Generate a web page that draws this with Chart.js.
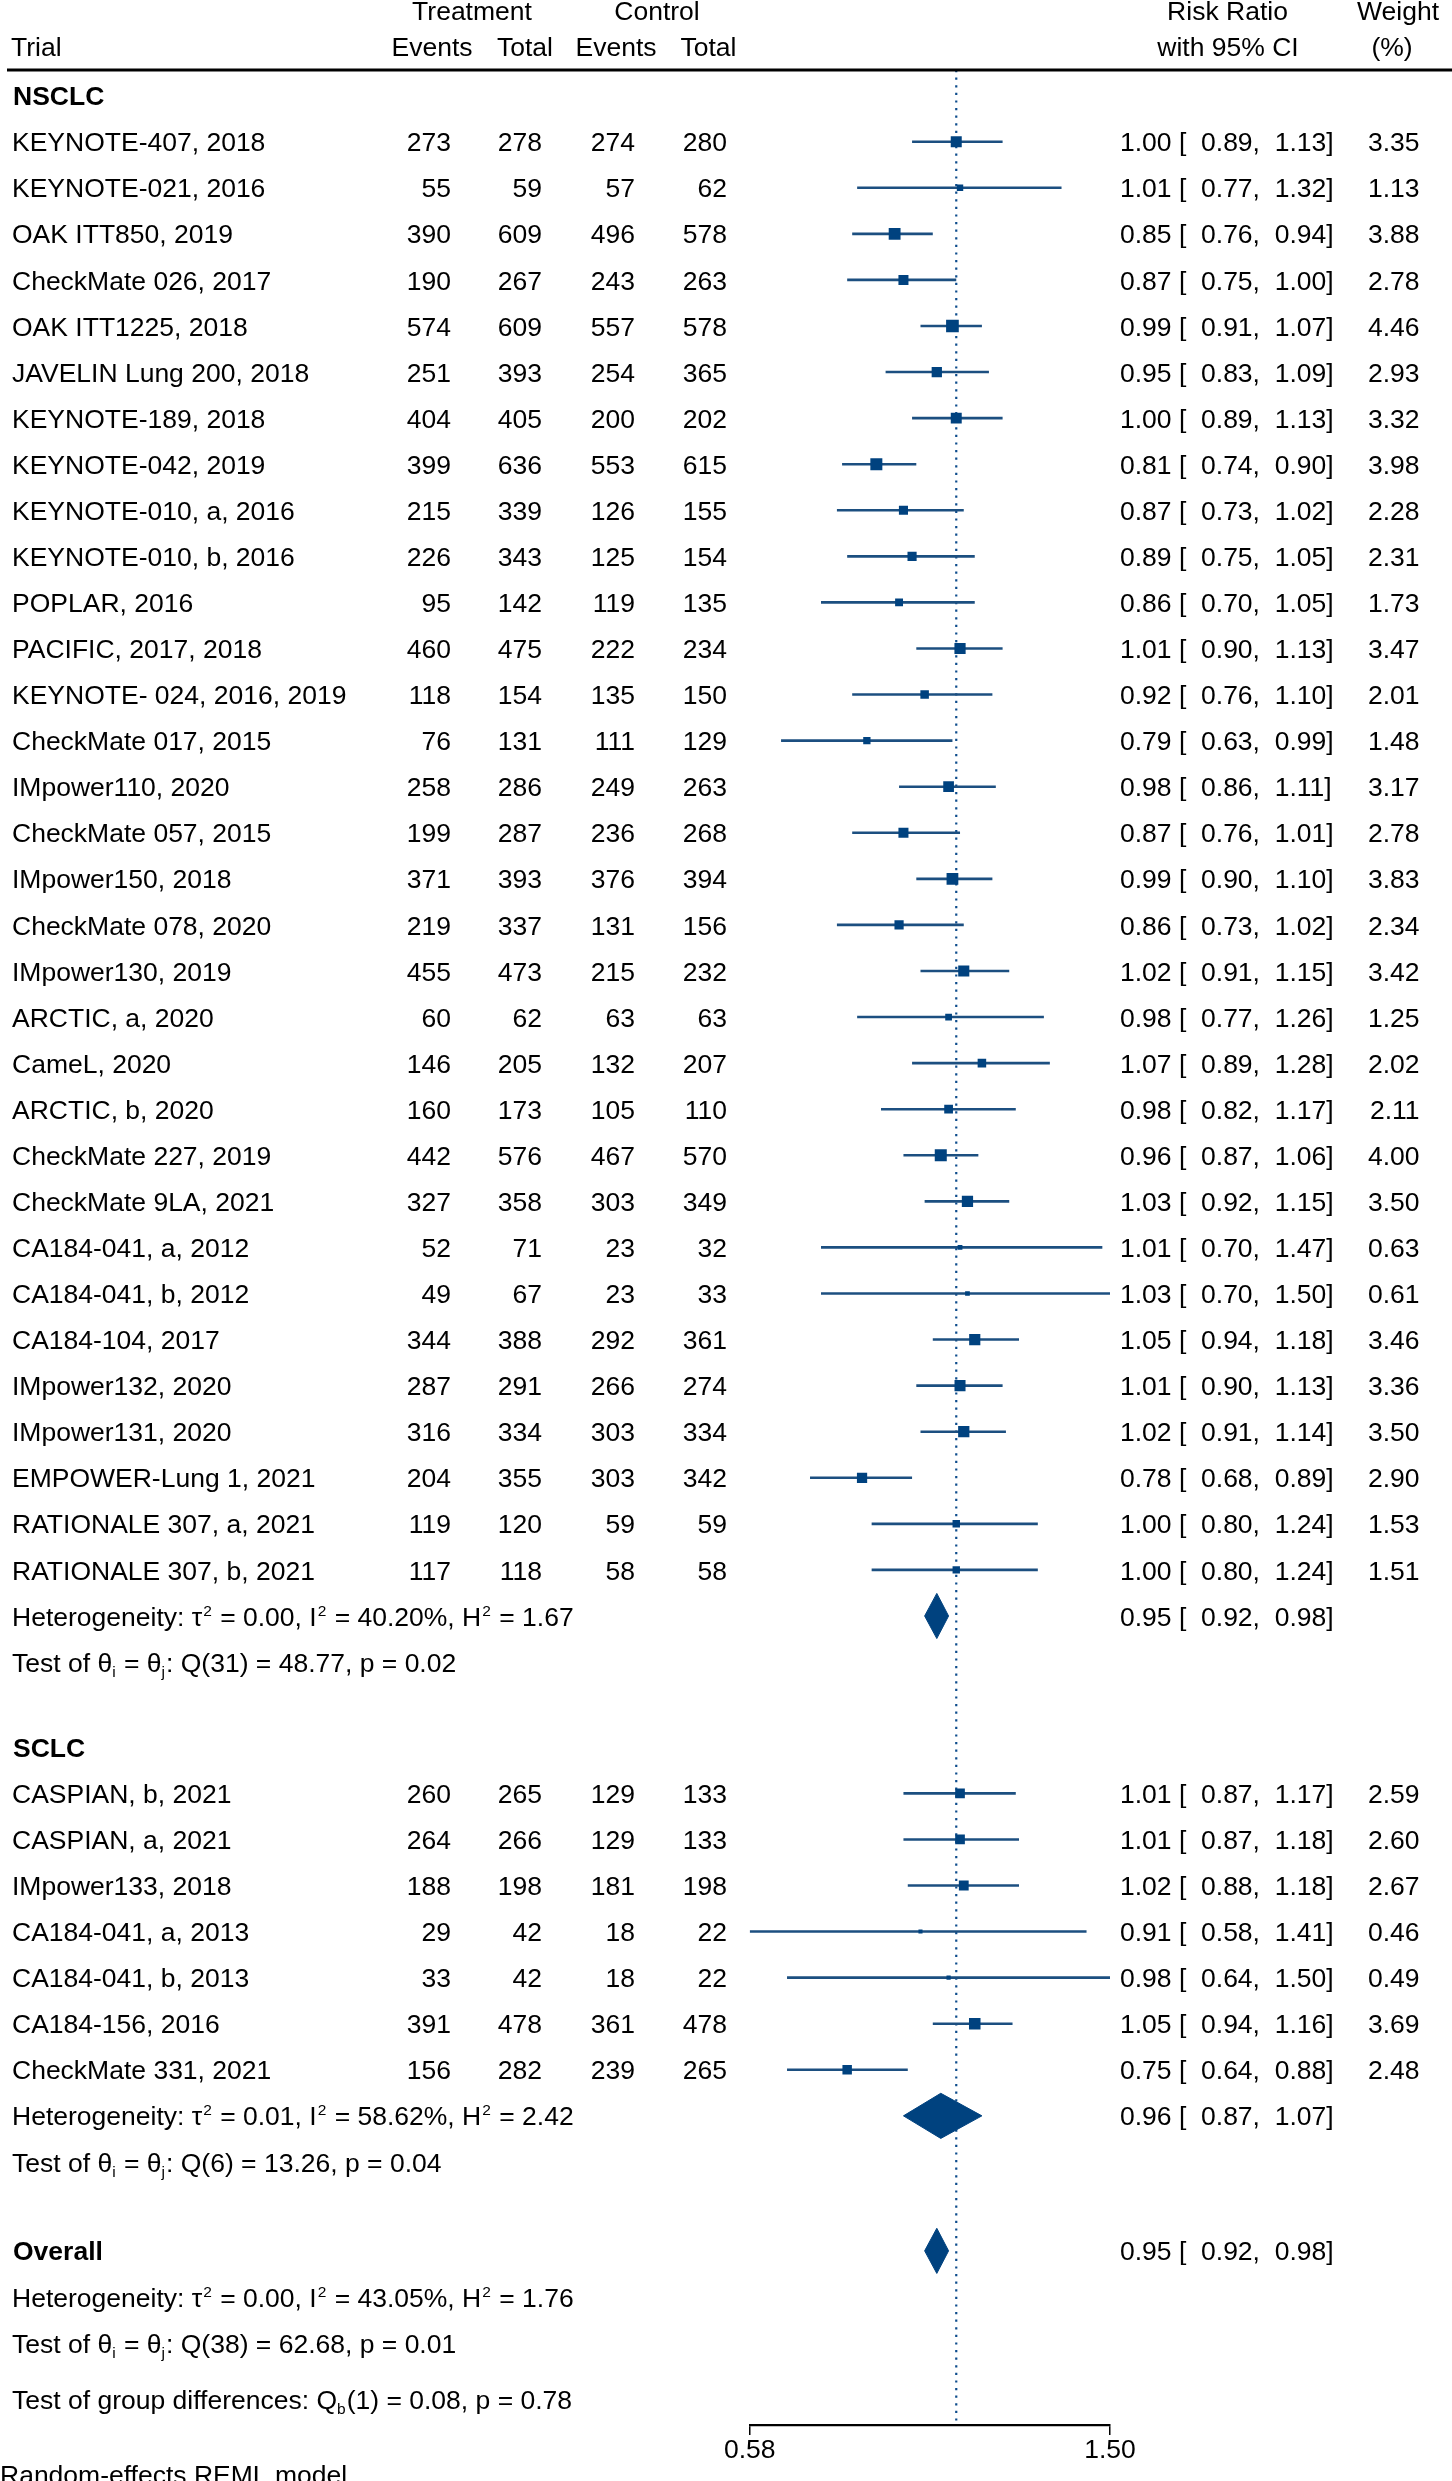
<!DOCTYPE html>
<html><head><meta charset="utf-8">
<script src="https://cdn.jsdelivr.net/npm/chart.js@4/dist/chart.umd.min.js"></script>
<style>html,body{margin:0;padding:0;background:#fff}#wrap{width:1452px;height:2481px;position:relative}</style>
</head><body><div id="wrap"><canvas id="c" width="1452" height="2481"></canvas></div>
<script>
// ---------- DATA ----------
const nsclcNames = ["KEYNOTE-407, 2018","KEYNOTE-021, 2016","OAK ITT850, 2019","CheckMate 026, 2017","OAK ITT1225, 2018","JAVELIN Lung 200, 2018","KEYNOTE-189, 2018","KEYNOTE-042, 2019","KEYNOTE-010, a, 2016","KEYNOTE-010, b, 2016","POPLAR, 2016","PACIFIC, 2017, 2018","KEYNOTE- 024, 2016, 2019","CheckMate 017, 2015","IMpower110, 2020","CheckMate 057, 2015","IMpower150, 2018","CheckMate 078, 2020","IMpower130, 2019","ARCTIC, a, 2020","CameL, 2020","ARCTIC, b, 2020","CheckMate 227, 2019","CheckMate 9LA, 2021","CA184-041, a, 2012","CA184-041, b, 2012","CA184-104, 2017","IMpower132, 2020","IMpower131, 2020","EMPOWER-Lung 1, 2021","RATIONALE 307, a, 2021","RATIONALE 307, b, 2021"];
const nsclcTreatEvents = [273,55,390,190,574,251,404,399,215,226,95,460,118,76,258,199,371,219,455,60,146,160,442,327,52,49,344,287,316,204,119,117];
const nsclcTreatTotal  = [278,59,609,267,609,393,405,636,339,343,142,475,154,131,286,287,393,337,473,62,205,173,576,358,71,67,388,291,334,355,120,118];
const nsclcCtrlEvents  = [274,57,496,243,557,254,200,553,126,125,119,222,135,111,249,236,376,131,215,63,132,105,467,303,23,23,292,266,303,303,59,58];
const nsclcCtrlTotal   = [280,62,578,263,578,365,202,615,155,154,135,234,150,129,263,268,394,156,232,63,207,110,570,349,32,33,361,274,334,342,59,58];
const nsclcRR   = [1.00,1.01,0.85,0.87,0.99,0.95,1.00,0.81,0.87,0.89,0.86,1.01,0.92,0.79,0.98,0.87,0.99,0.86,1.02,0.98,1.07,0.98,0.96,1.03,1.01,1.03,1.05,1.01,1.02,0.78,1.00,1.00];
const nsclcLo   = [0.89,0.77,0.76,0.75,0.91,0.83,0.89,0.74,0.73,0.75,0.70,0.90,0.76,0.63,0.86,0.76,0.90,0.73,0.91,0.77,0.89,0.82,0.87,0.92,0.70,0.70,0.94,0.90,0.91,0.68,0.80,0.80];
const nsclcHi   = [1.13,1.32,0.94,1.00,1.07,1.09,1.13,0.90,1.02,1.05,1.05,1.13,1.10,0.99,1.11,1.01,1.10,1.02,1.15,1.26,1.28,1.17,1.06,1.15,1.47,1.50,1.18,1.13,1.14,0.89,1.24,1.24];
const nsclcWeight = [3.35,1.13,3.88,2.78,4.46,2.93,3.32,3.98,2.28,2.31,1.73,3.47,2.01,1.48,3.17,2.78,3.83,2.34,3.42,1.25,2.02,2.11,4.00,3.50,0.63,0.61,3.46,3.36,3.50,2.90,1.53,1.51];
const nsclcPooled = [0.95,0.92,0.98];
const nsclcHet  = ["0.00","40.20","1.67"];
const nsclcTest = ["31","48.77","0.02"];

const sclcNames = ["CASPIAN, b, 2021","CASPIAN, a, 2021","IMpower133, 2018","CA184-041, a, 2013","CA184-041, b, 2013","CA184-156, 2016","CheckMate 331, 2021"];
const sclcTreatEvents = [260,264,188,29,33,391,156];
const sclcTreatTotal  = [265,266,198,42,42,478,282];
const sclcCtrlEvents  = [129,129,181,18,18,361,239];
const sclcCtrlTotal   = [133,133,198,22,22,478,265];
const sclcRR  = [1.01,1.01,1.02,0.91,0.98,1.05,0.75];
const sclcLo  = [0.87,0.87,0.88,0.58,0.64,0.94,0.64];
const sclcHi  = [1.17,1.18,1.18,1.41,1.50,1.16,0.88];
const sclcWeight = [2.59,2.60,2.67,0.46,0.49,3.69,2.48];
const sclcPooled = [0.96,0.87,1.07];
const sclcHet  = ["0.01","58.62","2.42"];
const sclcTest = ["6","13.26","0.04"];

const overallPooled = [0.95,0.92,0.98];
const overallHet  = ["0.00","43.05","1.76"];
const overallTest = ["38","62.68","0.01"];
const groupDiff = ["1","0.08","0.78"];

const axisTicks = [0.58, 1.50];
const sectionLabels = ["NSCLC","SCLC","Overall"];
const modelNote = "Random-effects REML model";

// ---------- LAYOUT (row units) ----------
const FF = '"Liberation Sans", Arial, Helvetica, sans-serif';
const FS = 26.5, SUBFS = 15.5;
const NAVY = '#00427f', CILINE = '#1c4f80', REFCOL = '#0d4c8c';
const Y_MIN = -0.556, Y_MAX = 50.56;

const groups = [
  {label: sectionLabels[0], names: nsclcNames, te: nsclcTreatEvents, tt: nsclcTreatTotal, ce: nsclcCtrlEvents, ct: nsclcCtrlTotal, rr: nsclcRR, lo: nsclcLo, hi: nsclcHi, w: nsclcWeight, pooled: nsclcPooled, het: nsclcHet, test: nsclcTest},
  {label: sectionLabels[1], names: sclcNames, te: sclcTreatEvents, tt: sclcTreatTotal, ce: sclcCtrlEvents, ct: sclcCtrlTotal, rr: sclcRR, lo: sclcLo, hi: sclcHi, w: sclcWeight, pooled: sclcPooled, het: sclcHet, test: sclcTest}
];
const sectionGaps = [1.85, 1.93];

const trialRows = [];   // {y, g, i}
const textRows = [];    // {y, kind, ...}
const diamonds = [];    // {y, est, lo, hi}
let r = 0;
groups.forEach((g, gi) => {
  textRows.push({y: r, kind: 'section', text: g.label});
  g.names.forEach((n, i) => { r += 1; trialRows.push({y: r, g, i}); });
  r += 1; textRows.push({y: r, kind: 'het', vals: g.het, eff: g.pooled}); diamonds.push({y: r, v: g.pooled});
  r += 1; textRows.push({y: r, kind: 'test', vals: g.test});
  r += sectionGaps[gi];
});
textRows.push({y: r, kind: 'section', text: sectionLabels[2], eff: overallPooled}); diamonds.push({y: r, v: overallPooled});
r += 1; textRows.push({y: r, kind: 'het', vals: overallHet});
r += 1; textRows.push({y: r, kind: 'test', vals: overallTest});
r += 1.22; textRows.push({y: r, kind: 'group', vals: groupDiff});
r += 1.63; textRows.push({y: r, kind: 'note', text: modelNote});

// ---------- DATASETS ----------
const datasets = [];
// reference line at RR = 1
datasets.push({type:'line', data:[{x:1,y:Y_MIN},{x:1,y:Y_MAX}], borderColor: REFCOL, borderWidth: 2.2, borderDash:[2.2,5.4], pointRadius:0, order: 5, fill:false});
// CI lines
trialRows.forEach(t => {
  datasets.push({type:'line', data:[{x:t.g.lo[t.i], y:t.y},{x:t.g.hi[t.i], y:t.y}], borderColor: CILINE, borderWidth: 2.6, pointRadius:0, order: 3, fill:false});
});
// squares
datasets.push({type:'scatter', data: trialRows.map(t => ({x: t.g.rr[t.i], y: t.y})),
  pointStyle:'rect', pointRadius: trialRows.map(t => 4.25*Math.sqrt(t.g.w[t.i])), pointHoverRadius: trialRows.map(t => 4.25*Math.sqrt(t.g.w[t.i])),
  backgroundColor: NAVY, borderWidth: 0, order: 1});
// diamonds
const DH = 0.49;
diamonds.forEach(d => {
  const [est, lo, hi] = d.v;
  datasets.push({type:'line', data:[{x:lo,y:d.y},{x:est,y:d.y-DH},{x:hi,y:d.y},{x:est,y:d.y+DH},{x:lo,y:d.y}],
    borderColor: NAVY, borderWidth: 1, backgroundColor: NAVY, fill: 'shape', pointRadius: 0, tension: 0, order: 2});
});

// ---------- TEXT PLUGIN ----------
function drawRich(ctx, x, y, parts) {
  let cx = x;
  for (const [t, m] of parts) {
    if (m === 0) { ctx.font = `${FS}px ${FF}`; ctx.fillText(t, cx, y); cx += ctx.measureText(t).width; }
    else if (m === 1) { ctx.font = `${SUBFS}px ${FF}`; ctx.fillText(t, cx + 1, y - 10); cx += ctx.measureText(t).width + 2; }
    else { ctx.font = `${SUBFS}px ${FF}`; ctx.fillText(t, cx, y + 5); cx += ctx.measureText(t).width + 1; }
  }
}
const effText = v => `${v[0].toFixed(2)} [  ${v[1].toFixed(2)},  ${v[2].toFixed(2)}]`;
const COL = {name: 12, te: 451, tt: 542, ce: 635, ct: 727, eff: 1120, w: 1419.5};

const textPlugin = {
  id: 'forestText',
  afterDraw(chart) {
    const ctx = chart.ctx, ys = chart.scales.y;
    const base = v => ys.getPixelForValue(v) + 9.6;
    ctx.save();
    ctx.fillStyle = '#000';
    ctx.textBaseline = 'alphabetic';
    ctx.font = `${FS}px ${FF}`;
    // headers
    ctx.textAlign = 'center';
    ctx.fillText('Treatment', 472, 20); ctx.fillText('Control', 657, 20);
    ctx.fillText('Risk Ratio', 1227.5, 20); ctx.fillText('Weight', 1398, 20);
    ctx.fillText('Events', 432, 56); ctx.fillText('Total', 525, 56);
    ctx.fillText('Events', 616, 56); ctx.fillText('Total', 708.5, 56);
    ctx.fillText('with 95% CI', 1228, 56); ctx.fillText('(%)', 1392, 56);
    ctx.textAlign = 'left';
    ctx.fillText('Trial', 11, 56);
    // thick rule
    ctx.strokeStyle = '#000'; ctx.lineWidth = 3.2;
    ctx.beginPath(); ctx.moveTo(7, 70); ctx.lineTo(1452, 70); ctx.stroke();
    // trial rows
    trialRows.forEach(t => {
      const y = base(t.y), g = t.g, i = t.i;
      ctx.font = `${FS}px ${FF}`;
      ctx.textAlign = 'left'; ctx.fillText(g.names[i], COL.name, y);
      ctx.textAlign = 'right';
      ctx.fillText(String(g.te[i]), COL.te, y); ctx.fillText(String(g.tt[i]), COL.tt, y);
      ctx.fillText(String(g.ce[i]), COL.ce, y); ctx.fillText(String(g.ct[i]), COL.ct, y);
      ctx.fillText(g.w[i].toFixed(2), COL.w, y);
      ctx.textAlign = 'left'; ctx.fillText(effText([g.rr[i], g.lo[i], g.hi[i]]), COL.eff, y);
    });
    // other rows
    textRows.forEach(tr => {
      const y = base(tr.y);
      ctx.textAlign = 'left';
      if (tr.kind === 'section') {
        ctx.font = `bold ${FS}px ${FF}`; ctx.fillText(tr.text, 13, y);
      } else if (tr.kind === 'het') {
        const [t, I, H] = tr.vals;
        drawRich(ctx, COL.name, y, [['Heterogeneity: τ',0],['2',1],[` = ${t}, I`,0],['2',1],[` = ${I}%, H`,0],['2',1],[` = ${H}`,0]]);
      } else if (tr.kind === 'test') {
        const [df, Q, p] = tr.vals;
        drawRich(ctx, COL.name, y, [['Test of θ',0],['i',-1],[' = θ',0],['j',-1],[`: Q(${df}) = ${Q}, p = ${p}`,0]]);
      } else if (tr.kind === 'group') {
        const [df, Q, p] = tr.vals;
        drawRich(ctx, COL.name, y, [['Test of group differences: Q',0],['b',-1],[`(${df}) = ${Q}, p = ${p}`,0]]);
      } else if (tr.kind === 'note') {
        ctx.font = `${FS}px ${FF}`; ctx.fillText(tr.text, 0, y);
      }
      if (tr.eff) { ctx.font = `${FS}px ${FF}`; ctx.textAlign = 'left'; ctx.fillText(effText(tr.eff), COL.eff, y); }
    });
    ctx.restore();
  }
};

Chart.defaults.font.family = FF;
Chart.defaults.font.size = FS;
Chart.defaults.color = '#000';

new Chart(document.getElementById('c'), {
  type: 'scatter',
  data: { datasets },
  options: {
    responsive: false, animation: false, devicePixelRatio: 1,
    events: [],
    layout: { padding: { left: 749.7, right: 342, top: 70, bottom: 0 } },
    plugins: { legend: {display:false}, tooltip: {enabled:false} },
    scales: {
      x: {
        type: 'logarithmic', min: 0.58, max: 1.5, bounds: 'data', position: 'bottom',
        afterBuildTicks: s => { s.ticks = axisTicks.map(v => ({value: v})); },
        afterFit: s => { s.height = 56; },
        grid: { drawOnChartArea: false, drawTicks: true, tickLength: 10, color: '#000', lineWidth: 1.5 },
        border: { display: true, color: '#000', width: 2.2 },
        ticks: { color: '#000', font: {size: FS, family: FF}, padding: 0, maxRotation: 0, autoSkip: false,
          callback: v => Number(v).toFixed(2) }
      },
      y: { type: 'linear', reverse: true, min: Y_MIN, max: Y_MAX, display: false }
    }
  },
  plugins: [textPlugin]
});
</script></body></html>
